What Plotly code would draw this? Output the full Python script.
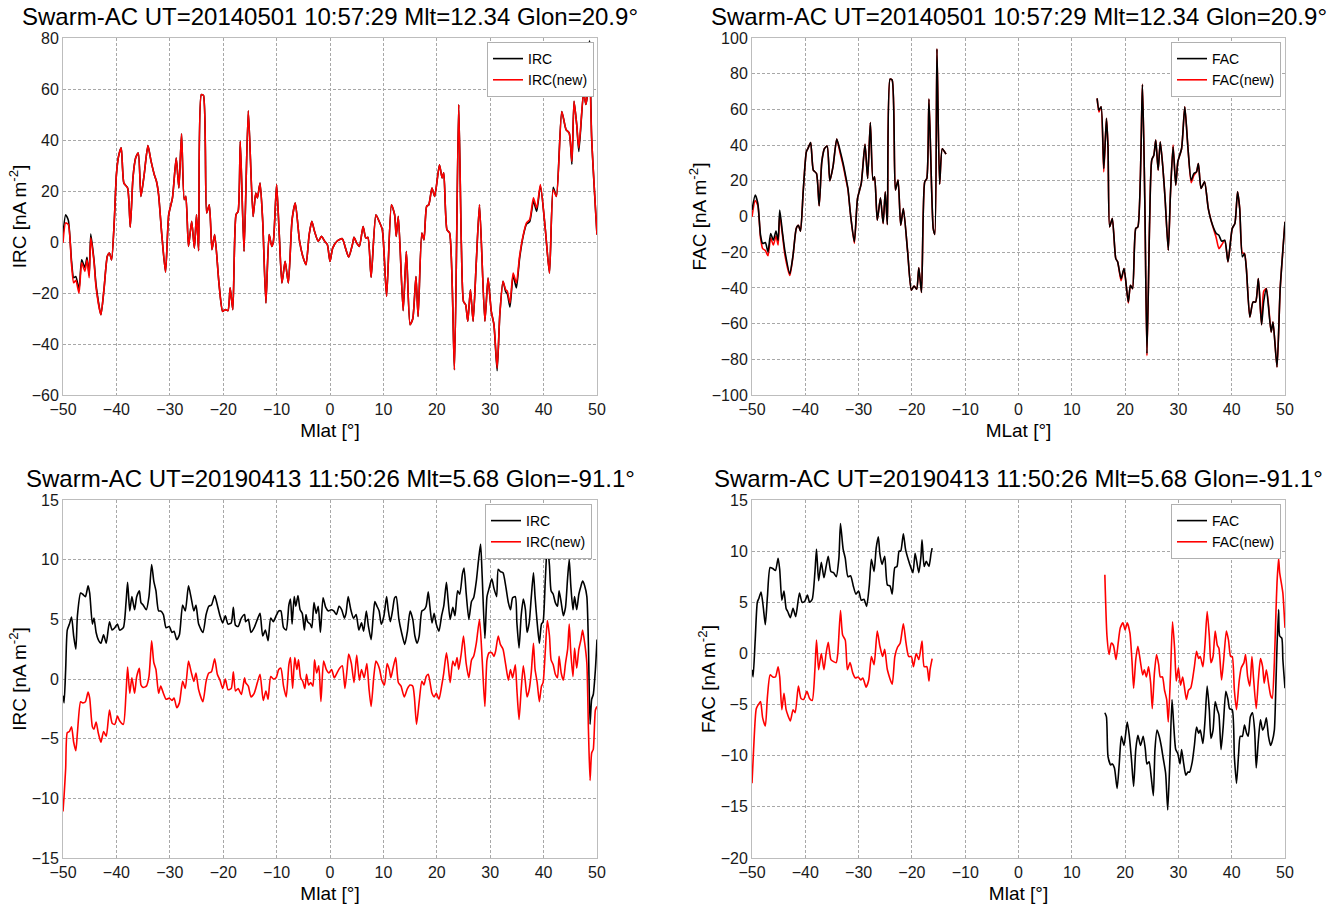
import plotly.graph_objects as go

# ---------------- Panel A: IRC 2014-05-01 ----------------
mlat_a = [-50.0, -49.5, -49.0, -48.4, -48.0, -47.6, -47.0, -46.5, -45.9, -45.5, -45.1, -44.8, -44.2, -43.8, -42.9,
          -42.3, -41.7, -41.3, -40.9, -40.4, -40.0, -39.6, -39.1, -38.6, -37.9, -37.4, -36.9, -36.4, -35.9, -35.4,
          -34.8, -34.1, -33.5, -32.9, -32.5, -32.1, -31.5, -30.8, -30.2, -29.5, -28.8, -28.3, -27.8, -27.3, -27.0,
          -26.5, -25.9, -25.4, -25.0, -24.6, -24.1, -23.7, -23.1, -22.6, -22.1, -21.6, -20.8, -20.1, -19.6, -19.1,
          -18.7, -18.2, -17.6, -17.2, -16.8,
          -16.1, -15.3, -14.4, -13.9, -13.6, -13.1, -12.6, -12.0, -11.4, -10.9, -10.6, -10.0, -9.5, -9.0, -8.4,
          -7.8, -7.1, -6.5, -5.7, -5.1, -4.5, -3.9, -3.4, -2.9, -2.2, -1.6, -1.0, -0.5, 0.0, 0.5, 1.3, 2.3, 2.9,
          3.5, 4.2, 4.5, 5.0, 5.5, 6.2, 6.7, 7.1, 7.7, 8.6, 9.2, 9.8, 10.6, 11.5, 12.1, 12.4, 12.8, 13.7, 14.3,
          15.0, 15.5, 16.1, 16.5,
          17.2, 17.6, 18.1, 18.5, 19.1, 19.6, 20.5, 21.0, 21.3, 21.9, 22.4, 23.3, 24.1, 24.6, 25.0, 25.4, 25.8,
          26.3, 26.8, 27.4, 28.0, 29.0, 29.6, 30.2, 30.7, 31.3, 31.8, 32.4, 32.9, 33.2, 33.7, 34.3, 34.9, 35.5,
          36.2, 36.8, 37.4, 38.1, 38.7, 39.4, 40.3, 41.1, 41.8, 42.4, 43.4, 44.2, 44.8, 45.3, 45.7, 46.2, 46.6,
          47.5, 47.9, 48.4, 48.6, 49.0, 50.0]
irc_a_new = [-0.4, 7.5, 6.8, -8.9, -16, -15, -20, -8.2, -11.5, -7, -14, 1.6, -7.6, -18, -28.5,
             -18, -5.6, -4.3, -7, 8.1, 26.4, 33.6, 36.9, 23.1, 21.2, 5.8, 25.1, 32.9, 34.9, 17.9,
             26.4, 37.8, 31.6, 26.4, 23.8, 18.6, 2.9, -11.8, 10.7, 17.3, 32.9, 21.2, 42.4, 16.6, 17.9,
             -1.7, 8.1, -2.4, 10.7, -3.4, 57.8, 57.5, 11.4, 14.6, -3, 2.9, -16, -27.2, -26.5, -26.9,
             -18, -26.5, 10.7, 12, 39.5,
             -3.7, 51.5, 10, 19.2, 17.3, 23.1, 8.1, -23.9, 2.9, -1.7, 0.3, 22.5, 2.9, -16.1, -7.6,
             -16.1, 8.8, 15.3, 0.3, -5.6, -8.9, 2.9, 8.1, 4.2, 0.3, 2.2, 0.3, -1.0, -7.6, -2.4, 0.3, 1.3, -2.4,
             -5.9, -1, 1.8, -0.4, -1.7, 6.1, 1.6, 1.8, -13.9, 10.7, 8.1, 4.8, -21.3, 14.6, 10.7, 2.2, 10.1, -26.9, -3.7,
             -32.4, -30.1, -13.5, -29.2,
             3.5, 0.9, 14, 14.6, 21.2, 17.9, 30.3, 25.1, 27.1, 4.8, 3.5, -50.1, 53.9, -1.0, -23.3, -24.6, -31.1,
             -18.7, -31.1, -7.6, 14.6, -31.1, -14.1, -27.2, -32.4, -49.4, -28.5, -15.4, -18.7, -19.3, -23.9, -12.2, -16.1, -5.6,
             2.9, 7.5, 8.8, 17.3, 13.3, 22.5, 5.5, -12.2, 20.5, 17.9, 51.2, 44.1, 42.7, 31.6, 55.2, 46, 36.9,
             59.1, 53.9, 61.7, 70, 40.8, 2.9]
irc_a_old = [3.1, 10.7, 8.5, -7.5, -14, -13.5, -18.5, -7, -10, -6, -13, 3.1, -7, -17, -28.5,
             -18, -5.6, -4.3, -7, 8.1, 26.4, 33.6, 36.9, 23.1, 21.2, 5.8, 25.1, 32.9, 34.9, 17.9,
             26.4, 37.8, 31.6, 26.4, 23.8, 18.6, 2.9, -11.8, 10.7, 17.3, 32.9, 21.2, 42.4, 16.6, 17.9,
             -1.7, 8.1, -2.4, 10.7, -3.4, 57.8, 57.5, 11.4, 14.6, -3, 2.9, -16, -27.2, -26.5, -26.9,
             -18, -26.5, 10.7, 12, 39.5,
             -3.7, 51.5, 10, 19.2, 17.3, 23.1, 8.1, -23.9, 2.9, -1.7, 0.3, 22.5, 2.9, -16.1, -7.6,
             -16.1, 8.8, 15.3, 0.3, -5.6, -8.9, 2.9, 8.1, 4.2, 0.3, 2.2, 0.3, -1.0, -7.6, -2.4, 0.3, 1.3, -2.4,
             -5.9, -1, 1.8, -0.4, -1.7, 6.1, 1.6, 1.8, -13.9, 10.7, 8.1, 4.8, -21.3, 14.6, 10.7, 2.2, 10.1, -26.9, -3.7,
             -32.4, -30.1, -13.5, -29.2,
             3.5, 0.9, 14, 14.6, 21.2, 17.9, 30.3, 25.1, 27.1, 4.8, 3.5, -50.1, 53.9, -1.0, -23.3, -24.6, -31.1,
             -18.7, -31.1, -7.6, 14.6, -31.1, -14.1, -27.2, -32.4, -50.5, -28.5, -15.4, -19.5, -20.3, -25.5, -13, -18, -6.5,
             2.5, 7, 8, 16, 12, 22, 5.5, -12.2, 21.5, 17.9, 51.2, 44.1, 42.7, 30.5, 55.2, 46, 35.5,
             59.1, 53.9, 61.7, 79, 40.8, 2.9]

# ---------------- Panel B: FAC 2014-05-01 ----------------
mlat_b = [-50.0, -49.4, -48.9, -48.4, -48.0, -47.5, -47.0, -46.5, -46.0, -45.5, -45.1, -44.8, -44.3, -43.8, -42.9,
          -42.3, -41.7, -41.3, -40.9, -40.4, -39.8, -39.5, -39.0, -38.5, -37.9, -37.4, -36.9, -36.4, -35.9, -35.4,
          -34.8, -34.1, -33.5, -32.9, -32.4, -32.0, -31.5, -30.8, -30.2, -29.5, -28.8, -28.3, -27.8, -27.3, -27.0,
          -26.5, -25.9, -25.4, -25.0, -24.6, -24.1, -23.7, -23.1, -22.6, -22.1, -21.6, -20.8, -20.1, -19.6, -19.1,
          -18.7, -18.2, -17.6, -17.2, -16.8, -16.0, -15.7, -15.3, -14.8, -14.3, -13.6,
          None,
          14.75, 15.1, 15.5, 16.0, 16.5, 16.8, 17.1, 17.6, 18.25, 18.6, 19.25, 19.8, 20.6, 21.0, 21.4, 22.0, 22.4,
          23.25, 23.7, 24.1, 24.6, 25.0, 25.4, 25.75, 26.2, 26.6, 27.1, 27.5, 28.1, 28.5, 29.0, 29.5, 29.9, 30.6,
          31.2, 31.8, 32.4, 32.9, 33.4, 33.75, 34.25, 34.9, 35.6, 36.2, 37.1, 37.6, 38.1, 38.7, 39.3, 40.1, 40.6,
          41.1, 41.5, 42.0, 42.4, 42.75, 43.4, 44.0, 44.5, 45.0, 45.6, 46.0, 46.5, 47.4, 47.75, 48.5, 49.1, 50.0]
fac_b_old = [3.6, 12, 7.3, -10.5, -15.1, -14.6, -19.8, -9.5, -13.3, -8.2, -13.3, 3.6, -8.6, -19.8, -32,
             -21.7, -6.7, -4.9, -8.2, 13.8, 36.3, 38.1, 41.5, 26, 24.1, 6, 30.7, 38.1, 39.4, 20,
             27.9, 43.4, 37.2, 29.7, 22.2, 15.7, 0.7, -14.2, 10.1, 18.5, 40.4, 21.3, 52.7, 20.4, 22.2,
             -2.1, 10.5, -3.9, 13.8, -4.5, 77, 76.4, 14.8, 20.4, -4.9, 4.5, -19.8, -41.3, -38.9, -40.7,
             -28.8, -42.6, 19.4, 21.3, 65.8, -6.7, -10, 94, 18, 38, 35,
             None,
             66.2, 59.6, 61.5, 26.9, 55, 38.1, -5.8, -1.1, -23.6, -25.4, -34.8, -29.2, -47.9, -38.5, -40.4, -6.7, -5.8,
             74, 8.2, -76.8, -3, 31.6, 34.4, 42.8, 26, 41.9, 26.9, 10.1, -18.9, 12, 39.1, 17.6, 30.7, 38.1,
             61.5, 38.1, 20.4, 24.1, 25, 29.7, 15.7, 19.4, 4.5, -3, -9.5, -10.5, -13.8, -13.3, -25.4, -6.7, -3.9,
             13.8, 4.5, -22.6, -20.7, -29.2, -56.3, -47.9, -47.9, -34.8, -60.6, -47.9, -40.4, -64.7, -59.1, -84.3, -40.4, -3]
fac_b_new = [-0.2, 9, 6, -12, -18, -19, -22, -12, -16, -11, -16, 1, -10, -22, -33,
             -22, -6.7, -4.9, -8.2, 13.8, 36.3, 38.1, 41.5, 26, 24.1, 6, 30.7, 38.1, 39.4, 20,
             27.9, 43.4, 36, 28.5, 21, 15, 0.7, -15, 10.1, 18.5, 40.4, 21.3, 52.7, 20.4, 22.2,
             -2.1, 10.5, -3.9, 13.8, -4.5, 77, 76.4, 14.8, 20.4, -4.9, 4.5, -19.8, -41.3, -38.9, -40.7,
             -28.8, -42.6, 19.4, 21.3, 65.8, -6.7, -10, 94, 18, 38, 35,
             None,
             66.2, 58.5, 61.5, 25, 55, 38.1, -5.8, -1.1, -23.6, -25.4, -36, -29.2, -48.5, -38.5, -40.4, -6.7, -5.8,
             74, 8.2, -78, -3, 31.6, 34.4, 42.8, 26, 41.9, 26.9, 10.1, -18.9, 12, 40, 17.6, 30.7, 38.1,
             61.5, 38.1, 19, 23, 25, 29.7, 15.7, 19.4, 4.5, -3, -12, -18, -16, -13.3, -25.4, -6.7, -3.9,
             13.8, 4.5, -20.5, -20.7, -29.2, -56.3, -47.9, -47.9, -34.8, -60.6, -42, -40.4, -64.7, -59.1, -84.3, -40.4, -3]

# ---------------- Panel C: IRC 2019-04-13 ----------------
mlat_c_old = [-50.0, -49.8, -49.5, -49.2, -48.8, -48.4, -48.0, -47.6, -47.3, -46.7, -46.3, -45.8, -45.3, -45.0, -44.5,
              -44.2, -43.8, -43.4, -42.9, -42.4, -41.9, -41.3, -40.8, -40.3, -39.8, -39.4, -38.7, -38.2, -37.9, -37.5,
              -37.1, -36.6, -36.2, -35.7, -35.4, -35.0, -34.4, -33.9, -33.4, -33.0, -32.6, -32.1, -31.7, -31.2, -30.7,
              -30.1, -29.6, -29.2, -28.7, -28.2, -27.6, -27.1, -26.5, -26.0, -25.5, -25.1, -24.6, -23.8, -23.2, -22.7,
              -22.2, -21.6, -21.1, -20.6, -20.1, -19.6, -19.1, -18.5, -18.1, -17.7, -17.2, -16.6, -16.0,
              -15.8, -15.3, -14.8, -14.2, -13.6, -13.1, -12.6, -12.1, -11.6, -11.1, -10.6, -10.1, -9.6, -9.2, -8.7,
              -8.2, -7.7, -7.4, -7.1, -6.7, -6.4, -6.0, -5.6, -5.2, -4.8, -4.5, -4.2, -3.7, -3.4, -3.0, -2.6, -2.2,
              -1.8, -1.3, -0.8, -0.3, 0.2, 0.7, 1.2, 1.7, 2.2, 2.7, 3.0, 3.4, 3.9, 4.4, 4.9, 5.4, 5.9, 6.3, 6.8, 7.2,
              7.7, 8.1, 8.4, 8.8, 9.2, 9.6, 10.1, 10.6, 10.9, 11.3, 11.7, 12.1, 12.4, 12.9, 13.4, 14.0, 14.5, 15.0,
              15.5, 15.9, 16.3,
              16.7, 17.2, 17.6, 18.0, 18.4, 18.7, 19.1, 19.5, 19.9, 20.4, 20.9, 21.3, 21.8, 22.1, 22.5, 23.0, 23.4,
              23.9, 24.3, 24.8, 25.1, 25.5, 26.0, 26.5, 26.9, 27.4, 27.8, 28.2, 28.5, 29.0, 29.4, 29.8, 30.3, 30.7,
              31.2, 31.5, 31.9, 32.4, 32.9, 33.4, 33.8, 34.2, 34.7, 35.0, 35.4, 35.8, 36.2, 36.6, 36.9, 37.3, 37.7,
              38.1, 38.4, 38.8, 39.2, 39.6, 39.9, 40.3, 40.7, 41.1, 41.4, 41.8, 42.2, 42.6, 42.9, 43.3, 43.7, 44.1,
              44.5, 44.8, 45.1, 45.5, 45.8, 46.2, 46.6, 47.0, 47.3, 47.7, 48.1, 48.4, 48.7, 49.0, 49.3, 49.7, 50.0]
irc_c_old = [-1.4, -2, 0.8, 4.1, 4.6, 5.2, 3.6, 2.5, 5.3, 7.2, 7.1, 6.9, 7.8, 7.2, 4.6,
             5.1, 3.9, 3.3, 3, 3.7, 3, 4.8, 4.1, 4.3, 4.6, 4.1, 4.3, 6.4, 8.1, 5.7,
             6.9, 5.8, 6.9, 7.4, 6.4, 6.2, 5.8, 6.9, 9.6, 8.2, 7.4, 5.7, 5.7, 5.4, 4.3,
             4.4, 3.9, 4, 3.3, 3.7, 6.2, 5.7, 7.8, 6.8, 5.7, 6.2, 4.6, 3.9, 5.4, 6.1,
             6.2, 7, 6.2, 5.3, 4.7, 5.3, 4.6, 4.7, 6, 4.5, 4.4, 5.1, 5.4,
             4.8, 5, 3.9, 4.3, 5, 5.5, 3.6, 4.1, 3.2, 5.1, 4.8, 5.3, 5.7, 5.7, 4.3,
             4.1, 6.2, 6.7, 4.6, 6.9, 6.1, 7, 5.8, 5.5, 4.1, 5.4, 4.8, 4.6, 4.3, 6.4, 5.5, 6.1,
             3.9, 6.8, 6, 5.7, 5.8, 5.7, 5.4, 6.1, 5.8, 5.1, 5.5, 6.9, 5.8, 5.1, 5.4, 4.1, 4.7, 4, 5.7, 4.4,
             3.3, 5.3, 6.5, 6.1, 5.7, 4.6, 5.3, 6.9, 5.8, 4.8, 5.7, 6.8, 6.9, 5, 3.9, 2.9, 4, 5.7,
             5, 3.6, 3,
             3.6, 5.7, 5.8, 6.1, 7.3, 6.1, 4.7, 5.5, 4.6, 4, 5.3, 6.1, 8.1, 6.7, 5, 6, 5.3,
             7.4, 7.1, 8.8, 9.3, 7.2, 5, 6.5, 6.8, 8.2, 9.9, 11.3, 8.6, 3.4, 6.9, 7.6, 8.4, 7.6,
             6.9, 9.2, 9, 8.9, 7.8, 6.4, 5.8, 6.8, 6.9, 4.7, 2.6, 5.3, 6.7, 5.8, 3.9, 4.7, 6.9,
             8.9, 6.9, 4.7, 3, 4.6, 4.8, 8.1, 11.3, 9.5, 7.4, 7.1, 6.4, 6.1, 7.4, 6.4, 5.3, 6,
             8.5, 10, 7.8, 5.8, 6.9, 5.8, 7.1, 7.8, 8.2, 7.8, 6.9, 2.7, -3.8, -1.7, -1.3, 0.8, 3.3]
mlat_c_new = [-50.0, -49.8, -49.5, -49.2, -48.8, -48.4, -48.0, -47.6, -47.3, -46.7, -46.3, -45.8, -45.3, -45.0, -44.5,
              -44.2, -43.8, -43.4, -42.9, -42.4, -41.9, -41.3, -40.8, -40.3, -39.8, -39.4, -38.7, -38.2, -37.9, -37.5,
              -37.1, -36.6, -36.2, -35.7, -35.4, -35.0, -34.4, -33.9, -33.4, -33.0, -32.6, -32.1, -31.7, -31.2, -30.7,
              -30.1, -29.6, -29.2, -28.7, -28.2, -27.6, -27.1, -26.5, -26.0, -25.5, -25.1, -24.6, -23.8, -23.2, -22.7,
              -22.2, -21.6, -21.1, -20.6, -20.1, -19.6, -19.1, -18.5, -18.1, -17.7, -17.2, -16.6, -16.0,
              -15.8, -15.3, -14.8, -14.2, -13.6, -13.1, -12.5, -12.0, -11.6, -11.1, -10.6, -10.1, -9.6, -9.2, -8.7,
              -8.2, -7.7, -7.4, -7.0, -6.6, -6.2, -5.9, -5.5, -5.1, -4.7, -4.4, -4.0, -3.6, -3.2, -2.9, -2.5, -2.1,
              -1.7, -1.2, -0.7, -0.2, 0.3, 0.8, 1.3, 1.8, 2.3, 2.8, 3.2, 3.5, 4.0, 4.5, 5.0, 5.5, 5.9, 6.4, 6.9, 7.3,
              7.7, 8.2, 8.6, 8.9, 9.3, 9.7, 10.2, 10.7, 11.1, 11.4, 11.8, 12.3, 12.8, 13.3, 13.9, 14.5, 15.0, 15.5,
              15.8, 16.2,
              16.7, 17.2, 17.6, 18.0, 18.4, 18.7, 19.1, 19.5, 19.9, 20.4, 20.9, 21.3, 21.8, 22.1, 22.5, 23.0, 23.4,
              23.8, 24.1, 24.6, 25.0, 25.5, 26.0, 26.5, 26.9, 27.4, 28.0, 28.5, 29.0, 29.4, 29.8, 30.3, 30.7, 31.0,
              31.5, 31.9, 32.4, 32.9, 33.4, 33.8, 34.2, 34.7, 35.0, 35.4, 35.8, 36.2, 36.6, 36.9, 37.3, 37.7, 38.1,
              38.4, 38.8, 39.2, 39.6, 39.9, 40.3, 40.7, 41.1, 41.4, 41.8, 42.2, 42.6, 42.9, 43.3, 43.7, 44.1, 44.5,
              44.8, 45.1, 45.5, 45.8, 46.2, 46.6, 47.0, 47.3, 47.7, 48.1, 48.4, 48.7, 49.0, 49.3, 49.7, 50.0]
irc_c_new = [-11.1, -9.8, -7.5, -4.5, -4.4, -4, -5.3, -6.0, -4.5, -1.9, -2, -1.9, -1.1, -1.6, -4.0,
             -4.2, -3.6, -4.5, -5.3, -4.4, -4.8, -2.6, -3.7, -3.8, -3.1, -3.5, -3.8, -1.2, 1, -1.2,
             0.1, -1.2, 0.2, 0.9, -0.5, -0.7, -0.6, 0.2, 3.2, 1.4, 0.8, -1.2, -0.6, -1.2, -1.7,
             -1.6, -1.8, -1.6, -2.4, -2, -0.2, -0.8, 1.5, 0.6, -0.2, 0.5, -0.9, -1.9, -0.2, 0.5,
             0.6, 1.7, 0.4, -0.1, -0.8, 0, -0.9, -0.8, 0.6, -1, -0.8, -1.3, 0.1,
             -0.3, -0.6, -1.5, -1.2, -0.3, 0.4, -1.8, -1, -1.7, 0.2, 0, 0.1, 0.8, 0.9, -0.6,
             -1.5, 1.2, 1.8, -0.8, 1.8, 0.8, 1.6, 0.1, -0.2, -0.8, 0.4, -0.5, -0.3, -0.6, 1.6, 0.5, 1.1,
             -1.9, 1.5, 0.8, 0.5, 0.8, 0.1, 0.5, 0.9, 1.1, -0.8, 0.8, 2.1, 1.3, -0.3, 2, -0.1, 0.8, 0.1, 1.3, -0.8,
             -2.3, 0.2, 1.5, 1.3, 0.8, -0.1, -0.5, 1.3, 0.8, 0.1, 0.9, 1.8, -0.3, -0.6, -1.5, -0.8, -0.5, -0.6,
             -1.5, -3.8,
             -1.9, -0.2, -0.5, 0.2, 0.4, -0.2, -1.2, -1.5, -1.2, -1.7, -0.6, 0.5, 2.2, 1.3, -0.3, 1.5, 1.1,
             1.8, 0.8, 2.2, 3.6, 1.3, 0.1, 1.6, 1.9, 3, 5, 1.6, -2.3, 1.6, 2.2, 2.2, 1.9, 2.3,
             3.6, 2.9, 2.5, 1.2, -0.1, 0.8, 0.1, 1.2, -0.9, -3.4, -0.9, 1.1, -0.3, -1.5, -0.9, 0.6, 3,
             0.8, -0.3, -1.9, -0.6, -0.3, 2.2, 4.9, 3.6, 1.6, 1.2, 0.4, 0.1, 1.9, 0.5, -0.1, 1.3, 2.5,
             4.6, 2.2, 0.2, 2.6, 0.9, 2.5, 3.3, 4.1, 3, 1.3, -4.3, -8.5, -6.2, -5.9, -2.6, -2.3]

# ---------------- Panel D: FAC 2019-04-13 ----------------
mlat_d_old = [-50.0, -49.8, -49.4, -49.0, -48.7, -48.3, -47.9, -47.5, -47.1, -46.6, -46.1, -45.6, -45.1, -44.8, -44.4,
              -44.0, -43.6, -43.3, -42.8, -42.3, -41.8, -41.1, -40.6, -40.1, -39.6, -39.2, -38.7, -38.2, -37.9, -37.5,
              -37.0, -36.5, -36.1, -35.7, -35.2, -34.7, -34.2, -33.7, -33.4, -32.9, -32.5, -32.0, -31.5, -31.0, -30.5,
              -30.0, -29.5, -29.0, -28.5, -28.0, -27.6, -27.1, -26.7, -26.3, -26.0, -25.6, -25.1, -24.6, -24.1, -23.7,
              -23.2, -22.8, -22.4, -22.1, -21.6, -21.2, -20.7, -20.2, -19.8, -19.4, -19.1, -18.7, -18.3, -18.1, -17.7,
              -17.3, -16.8, -16.4, -16.2,
              None,
              16.2, 16.5, 16.8, 17.3, 17.6, 18.0, 18.5, 18.9, 19.3, 19.8, 20.4, 20.8, 21.2, 21.6, 22.0, 22.4, 22.9,
              23.4, 23.8, 24.1, 24.5, 24.9, 25.3, 25.6, 26.0, 26.4, 26.8, 27.1, 27.6, 28.0, 28.4, 28.8, 29.1, 29.5,
              29.9, 30.3, 30.6, 31.0, 31.4, 31.8, 32.1, 32.6, 33.0, 33.4, 33.8, 34.1, 34.6, 35.0, 35.4, 35.8, 36.1,
              36.5, 36.9, 37.3, 37.6, 38.0, 38.4, 38.9, 39.3, 39.6, 40.1, 40.5, 40.9, 41.3, 41.6, 42.0, 42.4, 42.8,
              43.1, 43.5, 43.9, 44.3, 44.6, 45.0, 45.4, 45.8, 46.1, 46.5, 46.9, 47.3, 47.6, 48.0, 48.3, 48.5, 48.8,
              49.0, 49.4, 49.6, 50.0]
fac_d_old = [-1.6, -2.3, 1.3, 5, 5.4, 6, 4.6, 2.8, 5.6, 8.4, 8.3, 8.1, 9.3, 8.2, 5.2,
             6.1, 4.4, 4.1, 3.5, 4.4, 3.6, 5.9, 5, 5.1, 5.7, 5, 5.3, 7.9, 10.2, 7.1,
             8.9, 7.4, 8.5, 9.5, 8, 7.9, 7.5, 9.3, 12.7, 10.2, 9.3, 7.5, 7.6, 6.6, 5.8,
             6.1, 5.2, 5.3, 4.6, 6.6, 9.2, 8, 10.3, 11.4, 9.7, 8.7, 9.5, 6.7, 6.6, 5.8,
             8.4, 8.5, 10, 10, 11.7, 10.2, 9.2, 8.4, 7.9, 9.8, 9, 7.9, 9.5, 11.1, 8.5,
             9, 8.5, 9.8, 10.3,
             None,
             -5.8, -6.2, -10.1, -10.9, -10.8, -11.2, -13.2, -10.8, -8.1, -9, -6.7, -8.1, -10.4, -13, -9.4, -8, -9,
             -8.1, -9.4, -10.8, -10.6, -12.1, -13.9, -9.4, -7.5, -8.1, -9.1, -10.1, -11.7, -15.3, -10.4, -4.5, -6.8, -9.4,
             -9.8, -10.8, -9.4, -10.8, -11.9, -11.6, -11.6, -10.6, -9, -7.2, -7.8, -7.5, -8.8, -6.5, -3.2, -5.5, -8.3,
             -7.5, -4.7, -5.5, -6, -9.4, -7.2, -3.7, -4.5, -5.4, -5.5, -10.1, -12.7, -9.8, -8.1, -8.1, -7, -7.8,
             -8.1, -6.2, -5.8, -7.5, -11.2, -8.5, -6.5, -7.5, -7.2, -6.3, -8.1, -9, -8.6, -7.5, -2.9, 0.7, 4.3,
             1.7, 1.5, -0.6, -3.4]
mlat_d_new = [-50.0, -49.7, -49.2, -48.8, -48.4, -48.0, -47.5, -47.1, -46.6, -46.1, -45.6, -45.1, -44.8, -44.4, -44.0,
              -43.6, -43.3, -42.8, -42.3, -41.9, -41.3, -40.8, -40.3, -39.7, -39.2, -38.7, -38.2, -37.9, -37.5, -37.0,
              -36.5, -36.1, -35.7, -35.2, -34.7, -34.2, -33.9, -33.4, -33.0, -32.5, -32.1, -31.6, -31.1, -30.6, -30.1,
              -29.6, -29.2, -28.6, -28.1, -27.6, -27.1, -26.5, -26.0, -25.5, -25.1, -24.6, -23.7, -23.2, -22.7, -22.2,
              -21.6, -21.1, -20.6, -20.1, -19.7, -19.2, -18.7, -18.1, -17.7, -17.2, -16.8, -16.6, -16.2,
              None,
              16.2, 16.6, 17.0, 17.4, 17.8, 18.3, 18.7, 19.1, 19.6, 20.0, 20.4, 20.9, 21.3, 21.6, 22.0, 22.4, 22.9,
              23.3, 23.6, 24.0, 24.4, 24.8, 25.1, 25.5, 25.9, 26.3, 26.6, 27.0, 27.4, 27.8, 28.1, 28.5, 28.9, 29.3,
              29.6, 30.0, 30.4, 30.8, 31.1, 31.5, 31.9, 32.3, 32.6, 33.0, 33.4, 33.8, 34.1, 34.6, 35.0, 35.4, 35.8,
              36.1, 36.5, 36.9, 37.3, 37.6, 38.1, 38.5, 39.0, 39.4, 39.8, 40.1, 40.5, 40.9, 41.4, 41.8, 42.3, 42.6,
              43.0, 43.4, 43.8, 44.1, 44.6, 45.0, 45.4, 45.8, 46.1, 46.5, 46.9, 47.3, 47.6, 48.0, 48.3, 48.5, 48.8,
              49.0, 49.4, 49.6, 50.0]
fac_d_new = [-12.7, -9.4, -5.4, -5, -4.7, -6.3, -7.1, -4.2, -2.1, -2.3, -2.3, -1.3, -2.3, -5.5, -3.9,
             -5.5, -6, -6.6, -5.5, -5.8, -3.2, -4.4, -4.5, -3.7, -4.4, -4.6, -1.6, 1.3, -1.6, 0,
             -1.6, 0, 1.1, -0.6, -0.8, -0.9, 0, 4.2, 1.8, 1.3, -1.6, -0.9, -1.9, -2.4, -2.3,
             -2.6, -2.4, -3.3, -2.6, -0.3, -1.1, 2.2, 0.7, -0.3, 0.4, -1.6, -3, -0.3, 0.6, 1,
             2.9, 1, -0.3, -0.3, -1.3, 0, -0.6, 1.2, -1.3, -1.3, -2.7, -1.6, -0.5,
             None,
             7.7, 1.7, -0.1, 1, 0.8, -0.6, 1, 2.5, 3, 2.3, 3, 2, -0.8, -3.4, -0.6, 0.7, -0.9,
             -2.1, -1.6, -2.3, -1.3, -2.9, -5.4, -1.9, -0.1, -1.1, -2.3, -2.3, -3.6, -4.5, -6.7, -2.3, 3.1, 0.4,
             -2.7, -1.4, -3.1, -2.3, -3.2, -4.5, -3.6, -3.4, -2.7, -1.3, 0.2, -0.5, -0.3, -1.3, 1, 4.1, 1.7,
             -0.9, -0.3, 2.2, 0.8, 0.5, -2.6, -0.6, 2.2, 1.3, -0.3, -0.3, -3.6, -5.5, -2.7, -1.4, -0.9, -0.1,
             -2.3, -3.2, -0.3, -2.4, -5.4, -2.6, -0.5, -1.3, -2.9, -1.6, -2.9, -4.1, -4.4, -0.9, 4, 6.9, 9.3,
             7.9, 6.6, 5.9, 2.5]

titles = ["Swarm-AC UT=20140501 10:57:29 Mlt=12.34 Glon=20.9°",
          "Swarm-AC UT=20140501 10:57:29 Mlt=12.34 Glon=20.9°",
          "Swarm-AC UT=20190413 11:50:26 Mlt=5.68 Glon=-91.1°",
          "Swarm-AC UT=20190413 11:50:26 Mlt=5.68 Glon=-91.1°"]
xtitles = ["Mlat [°]", "MLat [°]", "Mlat [°]", "Mlat [°]"]
ytitles = ["IRC [nA m<sup>-2</sup>]", "FAC [nA m<sup>-2</sup>]", "IRC [nA m<sup>-2</sup>]", "FAC [nA m<sup>-2</sup>]"]
xticks = [-50, -40, -30, -20, -10, 0, 10, 20, 30, 40, 50]
yticks = [[-60, -40, -20, 0, 20, 40, 60, 80],
          [-100, -80, -60, -40, -20, 0, 20, 40, 60, 80, 100],
          [-15, -10, -5, 0, 5, 10, 15],
          [-20, -15, -10, -5, 0, 5, 10, 15]]
names = [("IRC", "IRC(new)"), ("FAC", "FAC(new)"), ("IRC", "IRC(new)"), ("FAC", "FAC(new)")]

W, H = 1334, 910
FONT = "Liberation Sans, Arial, sans-serif"
xdom = [[63 / W, 597 / W], [752 / W, 1285 / W], [63 / W, 597 / W], [752 / W, 1285 / W]]
ydom = [[1 - 395 / H, 1 - 38 / H], [1 - 395 / H, 1 - 38 / H], [1 - 858 / H, 1 - 500 / H], [1 - 858 / H, 1 - 500 / H]]
leg_pos = [(594 / W, 1 - 42 / H), (1281 / W, 1 - 42 / H), (592 / W, 1 - 504 / H), (1281 / W, 1 - 504 / H)]

fig = go.Figure()
series = [
    (mlat_a, irc_a_old, mlat_a, irc_a_new, True),
    (mlat_b, fac_b_old, mlat_b, fac_b_new, False),
    (mlat_c_old, irc_c_old, mlat_c_new, irc_c_new, True),
    (mlat_d_old, fac_d_old, mlat_d_new, fac_d_new, True),
]
for i, (xo, yo, xn, yn, red_on_top) in enumerate(series):
    sfx = "" if i == 0 else str(i + 1)
    leg = "legend" if i == 0 else "legend" + str(i + 1)
    old = go.Scatter(x=xo, y=yo, mode="lines", name=names[i][0],
                     line=dict(color="#000000", width=1.6, shape="spline", smoothing=0.6),
                     xaxis="x" + sfx, yaxis="y" + sfx, legend=leg, legendrank=1)
    new = go.Scatter(x=xn, y=yn, mode="lines", name=names[i][1],
                     line=dict(color="#ff0000", width=1.6, shape="spline", smoothing=0.6),
                     xaxis="x" + sfx, yaxis="y" + sfx, legend=leg, legendrank=2)
    if red_on_top:
        fig.add_trace(old)
        fig.add_trace(new)
    else:
        fig.add_trace(new)
        fig.add_trace(old)

layout = dict(width=W, height=H, margin=dict(l=0, r=0, t=0, b=0, autoexpand=False),
              plot_bgcolor="white", paper_bgcolor="white",
              font=dict(family=FONT, color="#000000"), annotations=[])
axis_common = dict(showline=True, mirror=True, linecolor="#bdbdbd", linewidth=1, showgrid=True,
                   gridcolor="#a8a8a8", griddash="3px,2px", gridwidth=1, zeroline=False, ticks="",
                   automargin=False, tickfont=dict(size=16, family=FONT, color="#1a1a1a"))
for i in range(4):
    sfx = "" if i == 0 else str(i + 1)
    yt = yticks[i]
    layout["xaxis" + sfx] = dict(axis_common, domain=xdom[i], anchor="y" + sfx, range=[-50, 50], tickvals=xticks,
                                 title=dict(text=xtitles[i], font=dict(size=19, family=FONT), standoff=6))
    layout["yaxis" + sfx] = dict(axis_common, domain=ydom[i], anchor="x" + sfx, range=[yt[0], yt[-1]], tickvals=yt,
                                 title=dict(text=ytitles[i], font=dict(size=19, family=FONT), standoff=0))
    leg = "legend" if i == 0 else "legend" + str(i + 1)
    layout[leg] = dict(x=leg_pos[i][0], y=leg_pos[i][1], xanchor="right", yanchor="top", bgcolor="white",
                       bordercolor="#b0b0b0", borderwidth=1, font=dict(size=14, family=FONT),
                       itemwidth=30, tracegroupgap=0, traceorder="normal")
    layout["annotations"].append(dict(text=titles[i], xref="paper", yref="paper",
                                      x=(xdom[i][0] + xdom[i][1]) / 2, y=ydom[i][1], xanchor="center",
                                      yanchor="bottom", yshift=6, showarrow=False,
                                      font=dict(size=24, family=FONT, color="#000000")))
fig.update_layout(**layout)
fig.write_html("out.html")
